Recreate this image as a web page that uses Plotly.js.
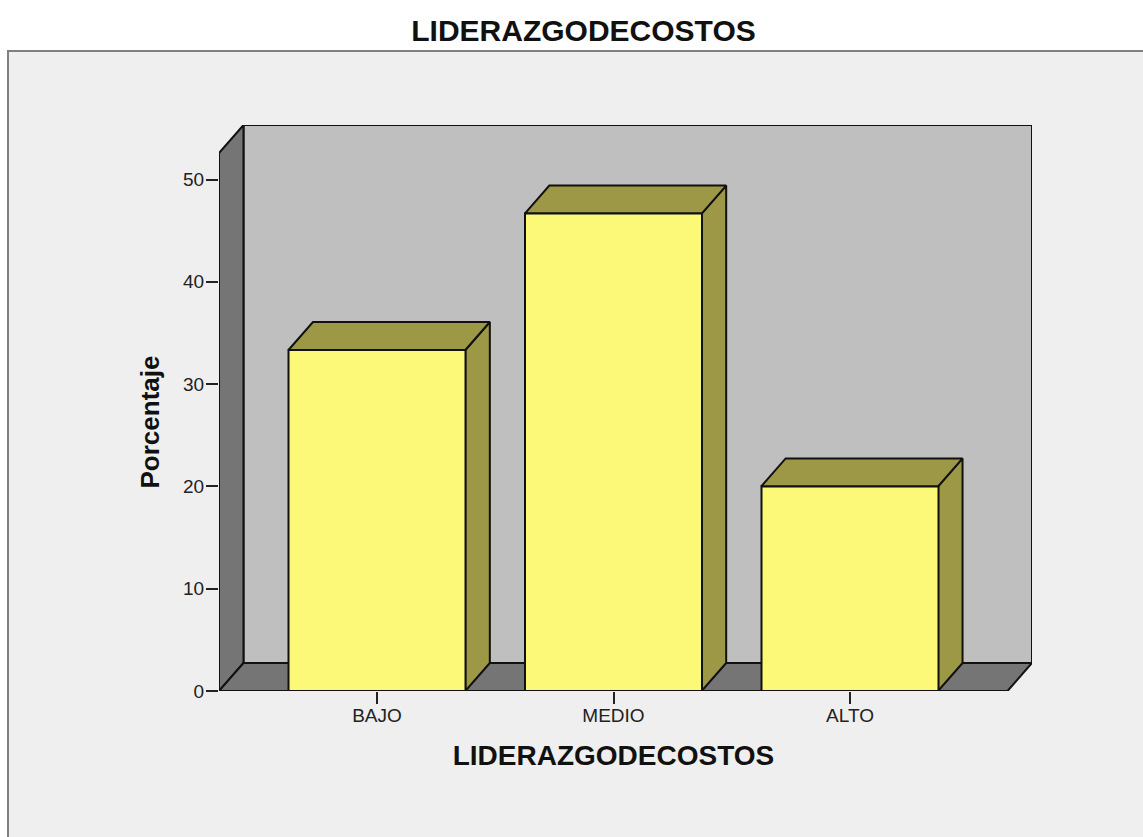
<!DOCTYPE html>
<html>
<head>
<meta charset="utf-8">
<script src="https://cdn.plot.ly/plotly-3.0.1.min.js"></script>
<style>html,body{margin:0;padding:0;background:#fff;overflow:hidden}#chart{width:1143px;height:837px}</style>
</head>
<body>
<div id="chart"></div>
<script>
const categories = ['BAJO', 'MEDIO', 'ALTO'];
const percentages = [33.33, 46.67, 20.0];
const yTicks = [0, 10, 20, 30, 40, 50];
const chartTitle = 'LIDERAZGODECOSTOS';
const xTitle = 'LIDERAZGODECOSTOS';
const yTitle = 'Porcentaje';

const W = 1143, H = 837;
const frontLeft = 219, frontRight = 1008, backRight = 1032, floorY = 691, frontTop = 153, backTop = 125;
const pxPerCat = 236.5, pxPerPct = 10.23;
const depthX = 24.5 / pxPerCat, depthY = 28 / pxPerPct;
const xMin = -(377 - frontLeft) / pxPerCat;
const xMax = (frontRight - 377) / pxPerCat;
const yMax = (floorY - frontTop) / pxPerPct;
const barW = 177 / pxPerCat;
const font = 'Liberation Sans, Arial, sans-serif';
const edge = {color: '#111', width: 2};

function poly(xs, ys, fill) {
  return {type: 'scatter', mode: 'lines', x: xs.concat(xs[0]), y: ys.concat(ys[0]), fill: 'toself',
    fillcolor: fill, line: edge, hoverinfo: 'skip', showlegend: false, xaxis: 'x', yaxis: 'y'};
}

const traces = [
  poly([xMin + depthX, xMax + depthX, xMax + depthX, xMin + depthX], [depthY, depthY, yMax + depthY, yMax + depthY], '#bfbfbf'),
  poly([xMin, xMin + depthX, xMin + depthX, xMin], [0, depthY, yMax + depthY, yMax], '#757575'),
  poly([xMin, xMax, xMax + depthX, xMin + depthX], [0, 0, depthY, depthY], '#757575')
];

percentages.forEach(function (v, i) {
  const l = i - barW / 2, r = i + barW / 2;
  traces.push(poly([r, r + depthX, r + depthX, r], [0, depthY, v + depthY, v], '#9c9846'));
  traces.push(poly([l, r, r + depthX, l + depthX], [v, v, v + depthY, v + depthY], '#9c9846'));
});

traces.push({type: 'bar', x: categories, y: percentages, width: barW, xaxis: 'x2', yaxis: 'y2',
  marker: {color: '#fcf878', line: {color: '#111', width: 2}}, hoverinfo: 'skip', showlegend: false});

const layout = {
  width: W, height: H,
  margin: {l: 0, r: 0, t: 0, b: 0, pad: 0},
  paper_bgcolor: '#ffffff', plot_bgcolor: 'rgba(0,0,0,0)',
  showlegend: false,
  title: {text: chartTitle, x: 583.5 / W, xref: 'container', xanchor: 'center', y: 1 - 30 / H, yref: 'container', yanchor: 'middle',
    font: {family: font, size: 30, color: '#111', weight: 'bold'}},
  xaxis: {domain: [frontLeft / W, backRight / W], range: [xMin, xMax + depthX], visible: false, fixedrange: true},
  yaxis: {domain: [1 - floorY / H, 1 - backTop / H], range: [0, yMax + depthY], visible: false, fixedrange: true},
  xaxis2: {domain: [frontLeft / W, frontRight / W], range: [xMin, xMax], type: 'category', categoryorder: 'array', categoryarray: categories,
    anchor: 'y2', showgrid: false, zeroline: false, showline: false, ticks: 'outside', ticklen: 12, tickwidth: 2, tickcolor: '#222',
    tickfont: {family: font, size: 19, color: '#222'}, ticklabelstandoff: -5, automargin: false, fixedrange: true,
    title: {text: xTitle, standoff: 20, font: {family: font, size: 28, color: '#111', weight: 'bold'}}},
  yaxis2: {domain: [1 - floorY / H, 1 - frontTop / H], range: [0, yMax], anchor: 'x2', tickvals: yTicks, ticktext: yTicks.map(String),
    showgrid: false, zeroline: false, showline: false, ticks: 'outside', ticklen: 12, tickwidth: 2, tickcolor: '#222',
    tickfont: {family: font, size: 19, color: '#222'}, ticklabelstandoff: -2, automargin: false, fixedrange: true,
    title: {text: yTitle, standoff: 15, font: {family: font, size: 26, color: '#111', weight: 'bold'}}},
  shapes: [{type: 'rect', xref: 'paper', yref: 'paper', layer: 'below',
    x0: 8 / W, x1: 1.01, y0: -0.01, y1: 1 - 51 / H,
    fillcolor: '#efefef', line: {color: '#808080', width: 2}}]
};

Plotly.newPlot('chart', traces, layout, {displayModeBar: false, staticPlot: true});
</script>
</body>
</html>
